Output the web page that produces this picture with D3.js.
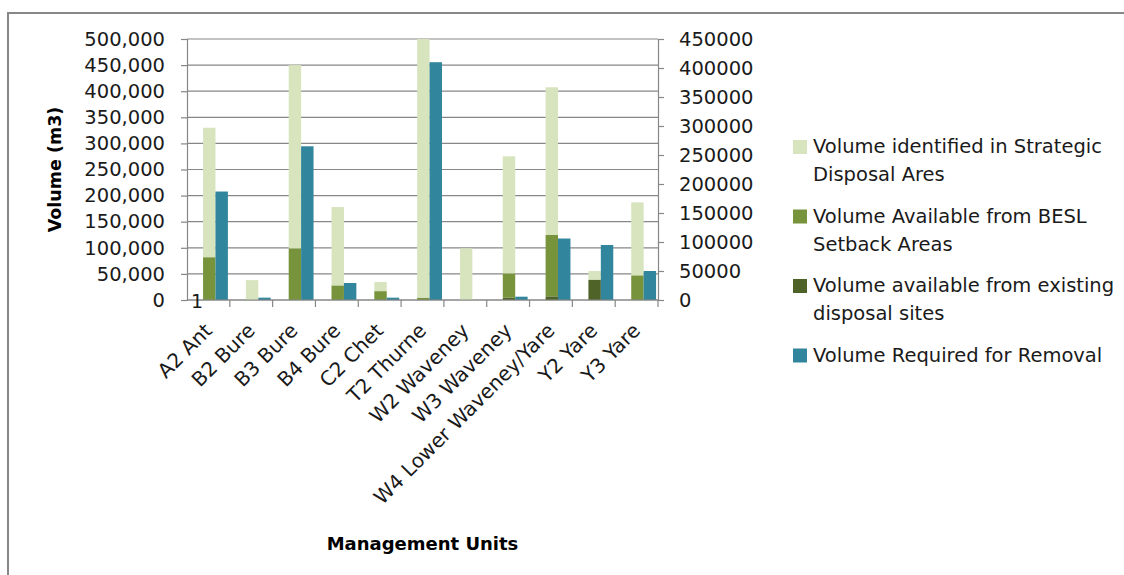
<!DOCTYPE html>
<html>
<head>
<meta charset="utf-8">
<script src="https://cdn.jsdelivr.net/npm/d3@7"></script>
<style>
  body { margin: 0; background: #fff; }
  svg { display: block; }
</style>
</head>
<body>
<script>
// management units along the x axis
const units = ["A2 Ant", "B2 Bure", "B3 Bure", "B4 Bure", "C2 Chet", "T2 Thurne",
  "W2 Waveney", "W3 Waveney", "W4 Lower Waveney/Yare", "Y2 Yare", "Y3 Yare"]

// stacked series, primary axis (m3), bottom to top
const existingSites = [0, 0, 0, 0, 0, 0, 0, 4400, 7000, 39000, 0]
const beslSetback = [82000, 0, 99000, 28000, 17000, 4500, 0, 46600, 117500, 0, 47300]
const strategicAreas = [248000, 38000, 351000, 150000, 17500, 495500, 99000, 224300, 283000, 16500, 139700]

// secondary axis (m3)
const requiredRemoval = [187000, 4000, 265000, 29300, 4000, 410000, 0, 5700, 106000, 94800, 50000]

const leftTicks = [0, 50000, 100000, 150000, 200000, 250000, 300000, 350000, 400000, 450000, 500000]
const rightTicks = [0, 50000, 100000, 150000, 200000, 250000, 300000, 350000, 400000, 450000]

const legendItems = [
  {lines: ["Volume identified in Strategic", "Disposal Ares"], color: "#d7e4bd"},
  {lines: ["Volume Available from BESL", "Setback Areas"], color: "#77933c"},
  {lines: ["Volume available from existing", "disposal sites"], color: "#4f6228"},
  {lines: ["Volume Required for Removal"], color: "#31859c"}
]

const width = 1124, height = 575
const margin = {top: 39, left: 187, right: 466, bottom: 275}
const font = "DejaVu Sans, sans-serif"
const gridColor = "#878787"

const svg = d3.select("body").append("svg")
  .attr("width", width)
  .attr("height", height)

// chart border (right and bottom run off the picture)
svg.append("rect")
  .attr("x", 8).attr("y", 13)
  .attr("width", width + 20).attr("height", height + 20)
  .attr("fill", "#fff")
  .attr("stroke", gridColor)
  .attr("stroke-width", 2)

const x0 = d3.scaleBand()
  .domain(units)
  .range([margin.left, width - margin.right])

const bw = x0.bandwidth()
const x1 = d3.scaleBand()
  .domain(["stack", "removal"])
  .range([bw * 0.375, bw * 0.955])

const yL = d3.scaleLinear().domain([0, 500000]).range([height - margin.bottom, margin.top])
const yR = d3.scaleLinear().domain([0, 450000]).range([height - margin.bottom, margin.top])

// gridlines
svg.append("g")
  .selectAll("line")
  .data(leftTicks)
  .join("line")
    .attr("x1", margin.left).attr("x2", width - margin.right)
    .attr("y1", d => yL(d)).attr("y2", d => yL(d))
    .attr("stroke", gridColor)
    .attr("stroke-width", 1.2)

svg.append("defs").append("clipPath").attr("id", "plot-clip")
  .append("rect")
    .attr("x", margin.left).attr("y", margin.top)
    .attr("width", width - margin.right - margin.left)
    .attr("height", height - margin.bottom - margin.top)

// stacked bars
const stackData = units.map((u, i) => ({
  unit: u, existing: existingSites[i], besl: beslSetback[i], strategic: strategicAreas[i]
}))
const stack = d3.stack().keys(["existing", "besl", "strategic"])(stackData)
const stackColors = {existing: "#4f6228", besl: "#77933c", strategic: "#d7e4bd"}

const bars = svg.append("g").attr("clip-path", "url(#plot-clip)")

bars.selectAll(".layer")
  .data(stack)
  .join("g")
    .attr("class", "layer")
    .attr("fill", d => stackColors[d.key])
  .selectAll("rect")
  .data(d => d)
  .join("rect")
    .attr("x", d => x0(d.data.unit) + x1("stack"))
    .attr("width", x1.bandwidth())
    .attr("y", d => yL(d[1]))
    .attr("height", d => yL(d[0]) - yL(d[1]))

// removal bars on the secondary axis
bars.append("g")
  .attr("fill", "#31859c")
  .selectAll("rect")
  .data(requiredRemoval)
  .join("rect")
    .attr("x", (d, i) => x0(units[i]) + x1("removal"))
    .attr("width", x1.bandwidth())
    .attr("y", d => yR(d))
    .attr("height", d => yR(0) - yR(d))

// axes
const axisStyle = g => {
  g.select(".domain").attr("stroke", gridColor).attr("stroke-width", 1.2)
  g.selectAll(".tick line").attr("stroke", gridColor).attr("stroke-width", 1.2)
  g.selectAll("text").attr("fill", "#1a1a1a").style("font", `19.5px ${font}`)
}

svg.append("g")
  .attr("transform", `translate(${margin.left},0)`)
  .call(d3.axisLeft(yL).tickValues(leftTicks).tickFormat(d3.format(",")).tickSizeOuter(0).tickSize(6).tickPadding(16))
  .call(axisStyle)

svg.append("g")
  .attr("transform", `translate(${width - margin.right},0)`)
  .call(d3.axisRight(yR).tickValues(rightTicks).tickFormat(d3.format("d")).tickSizeOuter(0).tickSize(6).tickPadding(15))
  .call(axisStyle)

// x axis: tick marks at category boundaries
const xAxis = svg.append("g")
xAxis.append("line")
  .attr("x1", margin.left).attr("x2", width - margin.right)
  .attr("y1", yL(0)).attr("y2", yL(0))
  .attr("stroke", gridColor).attr("stroke-width", 1.2)
xAxis.selectAll(".xtick")
  .data(units)
  .join("line")
    .attr("class", "xtick")
    .attr("x1", d => x0(d) + bw).attr("x2", d => x0(d) + bw)
    .attr("y1", yL(0)).attr("y2", yL(0) + 7)
    .attr("stroke", gridColor).attr("stroke-width", 1.2)

xAxis.selectAll(".xlabel")
  .data(units)
  .join("text")
    .attr("class", "xlabel")
    .attr("transform", d => `translate(${x0(d) + bw / 2 - 5},${yL(0) + 22}) rotate(-45)`)
    .attr("text-anchor", "end")
    .attr("dy", "0.7em")
    .attr("fill", "#1a1a1a")
    .style("font", `20px ${font}`)
    .text(d => d)

// stray "1" label sitting on the origin
svg.append("text")
  .attr("x", margin.left + 10).attr("y", yL(0) + 2)
  .attr("text-anchor", "middle")
  .attr("dominant-baseline", "middle")
  .attr("fill", "#1a1a1a")
  .style("font", `19px ${font}`)
  .text("1")

// axis titles
svg.append("text")
  .attr("transform", `translate(56,${(yL(0) + yL(500000)) / 2}) rotate(-90)`)
  .attr("text-anchor", "middle")
  .attr("dominant-baseline", "middle")
  .attr("fill", "#000")
  .style("font", `bold 17.5px ${font}`)
  .text("Volume (m3)")

svg.append("text")
  .attr("x", (margin.left + width - margin.right) / 2)
  .attr("y", 550)
  .attr("text-anchor", "middle")
  .attr("fill", "#000")
  .style("font", `bold 18px ${font}`)
  .text("Management Units")

// legend
const legend = svg.append("g").attr("transform", "translate(793,153)")
const item = legend.selectAll("g")
  .data(legendItems)
  .join("g")
    .attr("transform", (d, i) => `translate(0,${i * 69.5})`)
item.append("rect")
  .attr("x", 0).attr("y", -13)
  .attr("width", 14).attr("height", 14)
  .attr("fill", d => d.color)
item.append("text")
  .attr("fill", "#1a1a1a")
  .style("font", `19.5px ${font}`)
  .selectAll("tspan")
  .data(d => d.lines)
  .join("tspan")
    .attr("x", 20)
    .attr("y", (d, i) => i * 28)
    .text(d => d)
</script>
</body>
</html>
